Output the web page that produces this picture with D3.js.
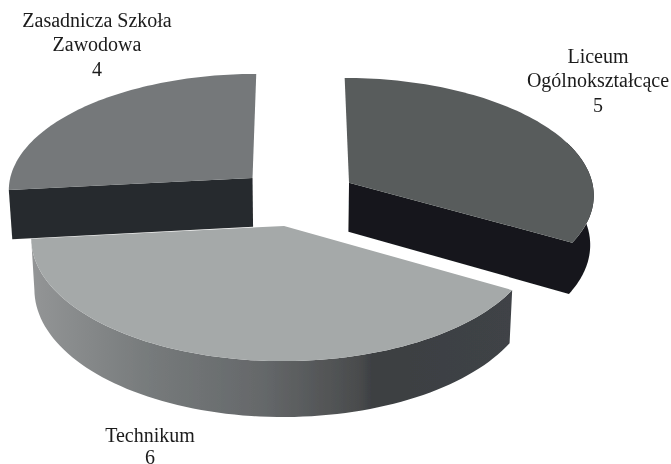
<!DOCTYPE html>
<html>
<head>
<meta charset="utf-8">
<script src="https://cdnjs.cloudflare.com/ajax/libs/d3/7.8.5/d3.min.js"></script>
<style>
html, body { margin: 0; padding: 0; background: #fff; overflow: hidden; }
svg { display: block; }
text { font-family: "Liberation Serif", serif; font-size: 20px; fill: #1a1a1a; text-anchor: middle; }
</style>
</head>
<body>
<svg id="svg1" width="671" height="464"></svg>
<script>
const categories = ["Liceum Ogólnokształcące", "Technikum", "Zasadnicza Szkoła Zawodowa"];
const values = [5, 6, 4];

// colours for each slice: top face, and the dark side wall
const topColors = ["#585b5c", "#a5a9a9", "#74787a"];
const wallColors = ["#15191b", null, "#282c2e"];
// front wall of the big slice is shaded from left to right
const wallStops = [
  [0, "#939596"], [0.25, "#767a7b"], [0.48, "#65686a"],
  [0.68, "#4a4c4d"], [0.71, "#3c3f42"], [1, "#3f4346"]
];

// label lines, each with its centre and first baseline
const labelLines = [
  ["Liceum", "Ogólnokształcące", "5"],
  ["Technikum", "6"],
  ["Zasadnicza Szkoła", "Zawodowa", "4"]
];
const labelPos = [[598, 63], [150, 442], [97, 27]];
const lineHeight = [24.3, 21.5, 24.3];

const svg1 = d3.select("#svg1");

// pie geometry: disk of radius 1 viewed in perspective
const centerX = 297, centerY = 197;
const radiusX = 246, radiusY = 117;
const perspective = 0.0925;   // how much nearer points grow
const explode = 0.247;        // slice offset from the centre
const depth = 49.5;           // height of the cylinder
const shrink = 0.988;         // bottom rim converges a little
const backLimit = 1.2;        // rim closer to the back than this has no visible wall

const project = function(u, v, bottom) {
  const f = 1 + perspective * v;
  let x = radiusX * u / f;
  let y = -radiusY * v / f;
  if (bottom) {
    x = x * shrink;
    y = y + depth / f;
  }
  return [centerX + x, centerY + y];
};

const pie = d3.pie().sort(null).startAngle(0).endAngle(2 * Math.PI);
const arcs = pie(values);

const line = d3.line();

const offsetOf = function(d) {
  const mid = (d.startAngle + d.endAngle) / 2;
  return [explode * Math.sin(mid), explode * Math.cos(mid)];
};

const rimPoints = function(d, from, to, bottom) {
  const off = offsetOf(d);
  return d3.range(0, 81).map(function(i) {
    const a = from + (to - from) * i / 80;
    return project(off[0] + Math.sin(a), off[1] + Math.cos(a), bottom);
  });
};

const apex = function(d, bottom) {
  const off = offsetOf(d);
  return project(off[0], off[1], bottom);
};

const defs = svg1.append("defs");
const grad = defs.append("linearGradient").attr("id", "wallGrad");
grad.selectAll("stop").data(wallStops).enter().append("stop")
  .attr("offset", d => d[0])
  .attr("stop-color", d => d[1]);
defs.append("filter").attr("id", "soft")
  .append("feGaussianBlur").attr("stdDeviation", 0.45);
defs.append("filter").attr("id", "softText")
  .append("feGaussianBlur").attr("stdDeviation", 0.3);

const chart = svg1.append("g").attr("filter", "url(#soft)");

// big slice sits behind the other two, so it goes first
const drawOrder = [1, 2, 0];
drawOrder.forEach(function(i) {
  const d = arcs[i];
  const g = chart.append("g").attr("class", "slice");

  // outer wall, front part of the rim only
  const from = Math.max(d.startAngle, backLimit);
  const to = Math.min(d.endAngle, 2 * Math.PI - backLimit);
  const wallTop = rimPoints(d, from, to, false);
  const wallBot = rimPoints(d, from, to, true).reverse();

  // dark slices: cut face goes in the same path as the wall, so no seam
  let outline = wallTop.concat(wallBot);
  if (wallColors[i] && Math.cos(d.endAngle) < 0) {
    outline = wallTop.concat([apex(d, false), apex(d, true)], wallBot);
  } else if (wallColors[i] && Math.cos(d.startAngle) < 0) {
    // left slice: its outer wall is hidden behind the top face, cut face only
    outline = [apex(d, false), wallTop[0], wallBot[wallBot.length - 1], apex(d, true)];
  }
  g.append("path")
    .attr("d", line(outline) + "Z")
    .attr("fill", wallColors[i] || "url(#wallGrad)");

  // top face
  const top = rimPoints(d, d.startAngle, d.endAngle, false);
  g.append("path")
    .attr("d", line([apex(d, false)].concat(top)) + "Z")
    .attr("fill", topColors[i]);
});

// labels
const labels = svg1.append("g").attr("filter", "url(#softText)");
labelLines.forEach(function(lines, i) {
  const t = labels.append("text").attr("aria-label", categories[i] + " " + values[i]);
  lines.forEach(function(s, j) {
    t.append("tspan")
      .attr("x", labelPos[i][0])
      .attr("y", labelPos[i][1] + j * lineHeight[i])
      .text(s);
  });
});
</script>
</body>
</html>
